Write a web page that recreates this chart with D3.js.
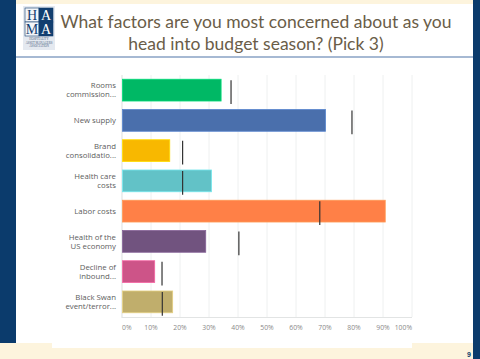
<!DOCTYPE html>
<html><head><meta charset="utf-8">
<script src="https://cdn.jsdelivr.net/npm/d3@7"></script>
<style>html,body{margin:0;padding:0;background:#fff;}svg{display:block;}</style>
</head><body>
<script>
const categories = [
  ["Rooms", "commission..."],
  ["New supply"],
  ["Brand", "consolidatio..."],
  ["Health care", "costs"],
  ["Labor costs"],
  ["Health of the", "US economy"],
  ["Decline of", "inbound..."],
  ["Black Swan", "event/terror..."]
];
const values = [34, 70, 16.3, 30.7, 90.6, 28.7, 11.1, 17.3];
const benchmarks = [37.6, 79.3, 20.9, 20.9, 68.2, 40.3, 13.8, 13.9];
const colors = ["#00b865", "#4a6fac", "#f8b800", "#62c2c7", "#ff8047", "#71537f", "#cd5488", "#c0ae6c"];
const ticks = [0, 10, 20, 30, 40, 50, 60, 70, 80, 90, 100];
const titleLines = ["What factors are you most concerned about as you", "head into budget season? (Pick 3)"];

const W = 480, H = 359;
const svg = d3.select("body").append("svg").attr("width", W).attr("height", H);
const navy = "#0b3b6c", cream = "#fdf4dd";

// frame
svg.append("rect").attr("x", 0).attr("y", 0).attr("width", W).attr("height", H).attr("fill", "#fff");
svg.append("rect").attr("x", 16).attr("y", 0).attr("width", 457).attr("height", 4).attr("fill", cream);
svg.append("rect").attr("x", 0).attr("y", 343).attr("width", 52).attr("height", 16).attr("fill", cream);
svg.append("rect").attr("x", 412).attr("y", 343).attr("width", 61).attr("height", 16).attr("fill", cream);
svg.append("rect").attr("x", 52).attr("y", 348).attr("width", 360).attr("height", 11).attr("fill", cream);
svg.append("rect").attr("x", 0).attr("y", 0).attr("width", 16).attr("height", 343).attr("fill", navy);
svg.append("rect").attr("x", 473).attr("y", 0).attr("width", 7).attr("height", H).attr("fill", navy);
svg.append("line").attr("x1", 16).attr("x2", 473).attr("y1", 57).attr("y2", 57).attr("stroke", "#4f74a8").attr("stroke-width", 1.2);
svg.append("text").attr("x", 471).attr("y", 357).attr("text-anchor", "end").attr("font-family", "Liberation Sans, sans-serif")
  .attr("font-size", 7).attr("font-weight", "bold").attr("fill", navy).text("9");

// logo
const lg = svg.append("g");
lg.append("rect").attr("x", 23).attr("y", 6).attr("width", 32).attr("height", 44).attr("fill", "#e4e9f0");
const cells = [["H", 25, 8, false], ["A", 39, 8, true], ["M", 25, 22, false], ["A", 39, 22, true]];
cells.forEach(c => {
  lg.append("rect").attr("x", c[1]).attr("y", c[2]).attr("width", 14).attr("height", 14)
    .attr("fill", c[3] ? "#123f70" : "#f3f5f8").attr("stroke", "#123f70").attr("stroke-width", 0.6);
  lg.append("text").attr("x", c[1] + 7).attr("y", c[2] + 12).attr("text-anchor", "middle")
    .attr("font-family", "Liberation Serif, serif").attr("font-size", 14)
    .attr("fill", c[3] ? "#fff" : "#123f70").text(c[0]);
});
["HOSPITALITY", "ASSET MANAGERS", "ASSOCIATION"].forEach((t, i) => {
  lg.append("text").attr("x", 39).attr("y", 40 + i * 3.6).attr("text-anchor", "middle")
    .attr("font-family", "Liberation Serif, serif").attr("font-size", 3).attr("fill", "#4a5f80").text(t);
});

// title
titleLines.forEach((t, i) => {
  svg.append("text").attr("x", 256).attr("y", 28 + i * 22).attr("text-anchor", "middle")
    .attr("font-family", "Lato, sans-serif").attr("font-size", 17.5).attr("fill", "#6a5d48").text(t);
});

// chart
const x = d3.scaleLinear().domain([0, 100]).range([122, 412]);
const y = d3.scaleBand().domain(d3.range(categories.length)).range([75, 317]).paddingInner(0.28).paddingOuter(0.14);

const g = svg.append("g");
g.selectAll("line.grid").data(ticks.slice(1)).join("line").attr("class", "grid")
  .attr("x1", d => x(d)).attr("x2", d => x(d)).attr("y1", 75).attr("y2", 317)
  .attr("stroke", "#eef0f0").attr("stroke-width", 1);
g.append("line").attr("x1", 122).attr("x2", 122).attr("y1", 75).attr("y2", 318).attr("stroke", "#e2e4e4").attr("stroke-width", 1.2);
g.append("line").attr("x1", 122).attr("x2", 412).attr("y1", 317.5).attr("y2", 317.5).attr("stroke", "#e2e4e4").attr("stroke-width", 1.2);

g.selectAll("rect.bar").data(values).join("rect").attr("class", "bar")
  .attr("x", x(0) + 0.5).attr("y", (d, i) => y(i)).attr("width", d => x(d) - x(0))
  .attr("height", y.bandwidth()).attr("fill", (d, i) => colors[i])
  .attr("stroke", (d, i) => d3.color(colors[i]).brighter(0.5)).attr("stroke-width", 0.8);

g.selectAll("line.bench").data(benchmarks).join("line").attr("class", "bench")
  .attr("x1", d => x(d)).attr("x2", d => x(d))
  .attr("y1", (d, i) => y(i) + 1).attr("y2", (d, i) => y(i) + y.bandwidth() + 3)
  .attr("stroke", "#333").attr("stroke-width", 1.2);

// category labels
categories.forEach((lines, i) => {
  const cy = y(i) + y.bandwidth() / 2;
  const t = g.append("text").attr("text-anchor", "end").attr("font-family", "Open Sans, sans-serif")
    .attr("font-size", 7.8).attr("fill", "#5d5d5d");
  const n = lines.length;
  lines.forEach((l, j) => {
    t.append("tspan").attr("x", 116).attr("y", cy + 2.8 + (j - (n - 1) / 2) * 9).text(l);
  });
});

// tick labels
g.selectAll("text.tick").data(ticks).join("text").attr("class", "tick")
  .attr("x", d => x(d)).attr("y", 330)
  .attr("text-anchor", (d, i) => i === 0 ? "start" : (i === ticks.length - 1 ? "end" : "middle"))
  .attr("font-family", "Open Sans, sans-serif").attr("font-size", 6.8).attr("fill", "#8a8a8a")
  .text(d => d + "%");
</script>
</body></html>
